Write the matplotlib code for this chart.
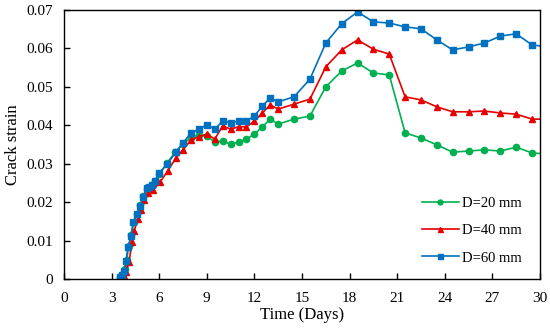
import matplotlib
matplotlib.use("Agg")
import matplotlib.pyplot as plt

# ------- DATA -------
t_20 = [3.55, 3.7, 3.85, 3.95, 4.08, 4.25, 4.4, 4.62, 4.82, 5.0, 5.25, 5.4, 5.58, 5.76, 6.0, 6.5,
        7.0, 7.5, 8.0, 8.5, 9.0, 9.5, 10.0, 10.5, 11.0, 11.5, 12.0, 12.5, 13.0, 13.5,
        14.5, 15.5, 16.5, 17.5, 18.5, 19.5, 20.5, 21.5, 22.5, 23.5, 24.5, 25.5, 26.5,
        27.5, 28.5, 29.5, 30.5]
s_20 = [0.0004, 0.001, 0.0025, 0.005, 0.0085, 0.0115, 0.0148, 0.017, 0.0192, 0.0215, 0.0235,
        0.024, 0.0245, 0.0255, 0.0272, 0.0302, 0.033, 0.0352, 0.0368, 0.0375, 0.0372,
        0.0356, 0.0359, 0.0351, 0.0356, 0.0364, 0.0377, 0.0396, 0.0416, 0.0403,
        0.0416, 0.0424, 0.0500, 0.0541, 0.0562, 0.0536, 0.0531, 0.0380, 0.0367, 0.0349,
        0.0330, 0.0333, 0.0336, 0.0333, 0.0343, 0.0328, 0.0325]

t_40 = [3.84, 3.9, 4.1, 4.28, 4.41, 4.66, 4.85, 5.04, 5.29, 5.6, 6.05, 6.55,
        7.05, 7.5, 8.0, 8.5, 9.0, 9.5, 10.0, 10.5, 11.0, 11.5, 12.0, 12.5, 13.0, 13.5,
        14.5, 15.5, 16.5, 17.5, 18.5, 19.5, 20.5, 21.5, 22.5, 23.5, 24.5, 25.5, 26.5,
        27.5, 28.5, 29.5, 30.5]
s_40 = [0.0003, 0.0018, 0.0044, 0.0096, 0.0125, 0.0156, 0.018, 0.0206, 0.0224, 0.0232,
        0.0252, 0.0282, 0.0315, 0.0336, 0.0362, 0.0370, 0.0377, 0.0364, 0.0398, 0.0390,
        0.0396, 0.0396, 0.0411, 0.0432, 0.0453, 0.0442,
        0.0455, 0.0468, 0.0552, 0.0596, 0.0622, 0.0598, 0.0585, 0.0474, 0.0466, 0.0448,
        0.0435, 0.0435, 0.0437, 0.0432, 0.0429, 0.0416, 0.0416]

t_60 = [3.53, 3.65, 3.78, 3.9, 4.03, 4.22, 4.35, 4.6, 4.79, 4.98, 5.23, 5.36, 5.54, 5.73,
        6.0, 6.5, 7.05, 7.5, 8.0, 8.5, 9.0, 9.5, 10.0, 10.5, 11.0, 11.5, 12.0, 12.5, 13.0,
        13.5, 14.5, 15.5, 16.5, 17.5, 18.5, 19.5, 20.5, 21.5, 22.5, 23.5, 24.5, 25.5,
        26.5, 27.5, 28.5, 29.5, 30.5]
s_60 = [0.0005, 0.001, 0.002, 0.0047, 0.0083, 0.0112, 0.0148, 0.0169, 0.019, 0.0213,
        0.0237, 0.0239, 0.0245, 0.0255, 0.0276, 0.0299, 0.0330, 0.0354, 0.0380, 0.0390,
        0.0401, 0.0390, 0.0411, 0.0406, 0.0411, 0.0411, 0.0424, 0.0450, 0.0471, 0.0461,
        0.0474, 0.0520, 0.0614, 0.0664, 0.0695, 0.0669, 0.0666, 0.0656, 0.0651, 0.0622,
        0.0596, 0.0604, 0.0614, 0.0632, 0.0638, 0.0609, 0.0604]

x_ticks = [0, 3, 6, 9, 12, 15, 18, 21, 24, 27, 30]
y_ticks = [0, 0.01, 0.02, 0.03, 0.04, 0.05, 0.06, 0.07]
y_labels = ["0", "0.01", "0.02", "0.03", "0.04", "0.05", "0.06", "0.07"]

# ------- PLOT -------
plt.rcParams["font.family"] = ["Liberation Serif", "DejaVu Serif"]

fig = plt.figure(figsize=(5.5, 3.32), dpi=100)
ax = fig.add_axes([0.1164, 0.1596, 0.8654, 0.8104])

ax.plot(t_20, s_20, color="#00B050", marker="o", markersize=4.5, linewidth=1.2,
        label="D=20 mm")
ax.plot(t_40, s_40, color="#E60000", marker="^", markersize=4.5, linewidth=1.2,
        label="D=40 mm")
ax.plot(t_60, s_60, color="#0070C0", marker="s", markersize=4.5, linewidth=1.2,
        label="D=60 mm")

ax.set_xlim(0, 30)
ax.set_ylim(0, 0.07)
ax.set_xticks(x_ticks)
ax.set_yticks(y_ticks)
ax.set_yticklabels(y_labels)
ax.tick_params(direction="in", length=4, width=1, labelsize=11, colors="black",
               top=False, right=False)
ax.tick_params(axis="x", pad=9)
ax.tick_params(axis="y", pad=8)
for sp in ax.spines.values():
    sp.set_linewidth(1.0)

ax.set_xlabel("Time (Days)", fontsize=12, labelpad=2)
ax.set_ylabel("Crack strain", fontsize=12, labelpad=4)

leg = ax.legend(loc="lower right", bbox_to_anchor=(0.99, 0.005), frameon=False,
                fontsize=10.5, handlelength=2.6, labelspacing=0.95, handletextpad=0.2,
                markerscale=0.8)

fig.savefig("out.png", dpi=100)
